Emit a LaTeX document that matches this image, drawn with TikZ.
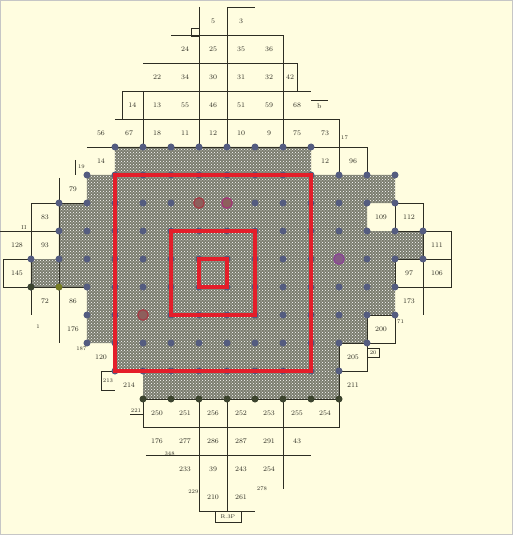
\documentclass[tikz,border=0pt]{standalone}
\usepackage{xcolor}
\usepackage{tikz}
\usetikzlibrary{patterns}

\definecolor{paper}{RGB}{255,253,224}
\definecolor{ink}{RGB}{45,45,35}
\definecolor{hatchgray}{RGB}{122,124,110}
\definecolor{dotblue}{RGB}{84,92,128}
\definecolor{dotolive}{RGB}{60,68,46}
\definecolor{ringred}{RGB}{165,60,70}
\definecolor{ringpurple}{RGB}{140,70,150}
\definecolor{squarered}{RGB}{228,30,42}

\begin{document}
\begin{tikzpicture}[
        x = 28pt, y = -28pt,
        every node/.style = {
            inner sep = 0pt,
            text = ink,
            font = \fontsize{7}{8}\selectfont
        },
        tag/.style = {
            font = \fontsize{5.5}{6}\selectfont
        },
        grid/.style = {
            draw = ink,
            line width = 0.75pt
        },
        field/.style = {
            fill = hatchgray,
            postaction = {pattern = crosshatch dots, pattern color = white}
        },
        dot/.style = {
            circle,
            fill = dotblue,
            minimum size = 7pt
        },
        ring/.style = {
            circle,
            draw = ringred,
            line width = 1.3pt,
            fill = ringred!45!hatchgray,
            minimum size = 10.5pt
        },
        zone/.style = {
            draw = squarered,
            line width = 3.2pt
        }
    ]
    \fill[paper] (-115/28, -147/28) rectangle (398/28, 388/28);
    \useasboundingbox (-115/28, -147/28) rectangle (398/28, 388/28);
    \draw[gray!45, line width = 0.8pt]
        ([shift = {(0.4pt, -0.4pt)}] -115/28, -147/28)
        rectangle ([shift = {(-0.4pt, 0.4pt)}] 398/28, 388/28);

    \path[field] (0,0) -| (7,1) -| (10,2) -| (9,3) -| (11,4) -| (10,6) -| (9,7)
        -| (8,9) -| (1,8) -| (0,7) -| (-1,5) -| (-3,4) -| (-2,2) -| (-1,1) -| (0,0) -- cycle;

    \draw[grid] (3,-5) -- (3,0) (4,0) -- (4,-5) -- (5,-5);
    \draw[grid] (2,-4) -- (6,-4) -- (6,0);
    \draw[grid] (1,-3) -- (6.5,-3) -- (6.5,-2);
    \draw[grid] (0.25,-1) -- (0.25,-2) -- (7,-2) (1,-2) -- (1,0);
    \draw[grid] (0,-1) -- (8,-1) -- (8,1);
    \draw[grid] (-1,0) -- (9,0) -- (9,1);
    \draw[grid] (7,-1.68) -- (7.6,-1.68);
    \draw[grid, line width = 0.5pt] (2.72,-4.25) rectangle (3,-3.95);

    \draw[grid] (10,2) rectangle (11,3) (11,3) rectangle (12,4);
    \draw[grid] (10,4) rectangle (12,5) (11,4) -- (11,6);
    \draw[grid] (9,6) rectangle (10,7) (8,7) rectangle (9,8) (8,8) -- (8,9);
    \draw[grid, line width = 0.5pt] (9,7.2) rectangle (9.45,7.5);

    \draw[grid] (-2,1.1) -- (-2,7) (-3,2) -- (-3,6) (-3,2) -- (-1,2);
    \draw[grid] (-4.1,3) -- (-2,3) (-4,4) rectangle (-3,5) (-3,5) -- (-1,5);
    \draw[grid] (-1.43,0.46) -- (-1.43,1);
    \draw[grid] (-0.5,8) -- (0,8) (-0.5,8) -- (-0.5,8.7) -- (0,8.7);
    \draw[grid] (0.54,9.55) -- (1,9.55);

    \draw[grid] (1,9) rectangle (8,10);
    \draw[grid] (3,9) -- (3,13) (4,9) -- (4,13) (6,9) -- (6,12.2);
    \draw[grid] (1.1,11) -- (7,11) (3,13) -- (5,13);
    \draw[grid] (3.57,13) rectangle (4.5,13.4);

    \foreach \j/\a/\b in {0/0/7, 1/-1/10, 2/-2/10, 3/-2/11, 4/-3/11,
                          5/-3/10, 6/-1/10, 7/-1/9, 8/0/8}
        \foreach \i in {\a,...,\b}
            \node[dot] (dot-\i-\j) at (\i,\j) {};
    \foreach \i in {1,...,8}
        \node[dot, fill = dotolive] (dot-\i-9) at (\i,9) {};
    \node[dot, fill = dotolive] (dot-x-1) at (-3,5) {};
    \node[dot, fill = dotolive!70!yellow] (dot-x-2) at (-2,5) {};

    \draw[zone, line width = 3.8pt] (0,1) rectangle (7,8);
    \draw[zone] (2,3) rectangle (5,6);
    \draw[zone] (3,4) rectangle (4,5);

    \node[ring] (hit-1) at (3,2) {};
    \node[ring, draw = ringpurple!80!red] (hit-2) at (4,2) {};
    \node[ring] (hit-3) at (1,6) {};
    \node[ring, draw = ringpurple, fill = ringpurple!60!hatchgray] (hit-4) at (8,4) {};

    \foreach \i/\j/\t [count = \n] in {
            3.5/-4.5/5, 4.5/-4.5/3,
            2.5/-3.5/24, 3.5/-3.5/25, 4.5/-3.5/35, 5.5/-3.5/36,
            1.5/-2.5/22, 2.5/-2.5/34, 3.5/-2.5/30, 4.5/-2.5/31, 5.5/-2.5/32, 6.25/-2.5/42,
            0.62/-1.5/14, 1.5/-1.5/13, 2.5/-1.5/55, 3.5/-1.5/46, 4.5/-1.5/51,
            5.5/-1.5/59, 6.5/-1.5/68, 7.3/-1.45/b,
            -0.5/-0.5/56, 0.5/-0.5/67, 1.5/-0.5/18, 2.5/-0.5/11, 3.5/-0.5/12,
            4.5/-0.5/10, 5.5/-0.5/9, 6.5/-0.5/75, 7.5/-0.5/73,
            -0.5/0.5/14, 7.5/0.5/12, 8.5/0.5/96,
            -1.5/1.5/79,
            -2.5/2.5/83, 9.5/2.5/109, 10.5/2.5/112,
            -3.5/3.5/128, -2.5/3.5/93, 11.5/3.5/111,
            -3.5/4.5/145, 10.5/4.5/97, 11.5/4.5/106,
            -2.5/5.5/72, -1.5/5.5/86, 10.5/5.5/173,
            -1.5/6.5/176, 9.5/6.5/200,
            -0.5/7.5/120, 8.5/7.5/205,
            0.5/8.5/214, 8.5/8.5/211,
            1.5/9.5/250, 2.5/9.5/251, 3.5/9.5/256, 4.5/9.5/252,
            5.5/9.5/253, 6.5/9.5/255, 7.5/9.5/254,
            1.5/10.5/176, 2.5/10.5/277, 3.5/10.5/286, 4.5/10.5/287,
            5.5/10.5/291, 6.5/10.5/43,
            2.5/11.5/233, 3.5/11.5/39, 4.5/11.5/243, 5.5/11.5/254,
            3.5/12.5/210, 4.5/12.5/261}
        \node (cell-\n) at (\i,\j) {\t};

    \foreach \i/\j/\t [count = \n] in {
            -1.2/0.72/19, -3.25/2.88/II, -1.2/7.22/187, -2.75/6.4/1,
            -0.25/8.35/213, 0.75/9.4/221, 8.2/-0.35/17, 10.2/6.25/71,
            9.22/7.35/20, 2.8/12.3/229, 5.25/12.2/278, 1.95/10.95/348,
            4.03/13.2/R.3P}
        \node[tag] (tag-\n) at (\i,\j) {\t};
\end{tikzpicture}
\end{document}
